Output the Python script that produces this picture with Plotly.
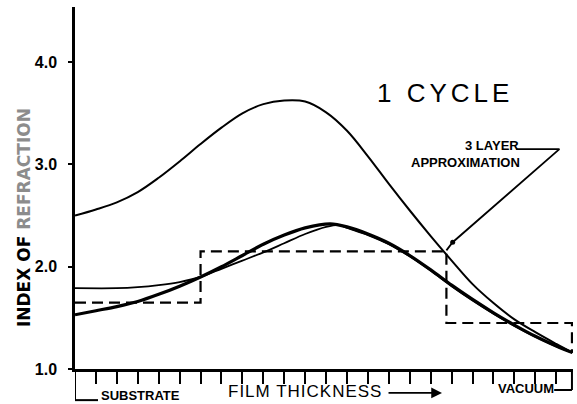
import plotly.graph_objects as go

# Film thickness in tick units (0 = substrate interface, ~23.8 = vacuum)
upper_t = [0, 1, 2, 3, 4, 5, 6, 7, 8, 9, 10, 11, 12, 13, 14, 15, 16, 17, 18, 19, 20, 21, 22, 23, 23.77]
upper_n = [2.50, 2.56, 2.63, 2.73, 2.87, 3.03, 3.20, 3.36, 3.50, 3.59, 3.625, 3.615, 3.51, 3.33, 3.08, 2.81, 2.55, 2.30, 2.06, 1.83, 1.645, 1.485, 1.36, 1.245, 1.16]

bold_t = [0, 1, 2, 3, 4, 5, 6, 7, 8, 9, 10, 11, 12.2, 13, 14, 15, 16, 17, 18, 19, 20, 21, 22, 23, 23.77]
bold_n = [1.53, 1.57, 1.61, 1.66, 1.73, 1.81, 1.90, 2.00, 2.11, 2.22, 2.31, 2.38, 2.42, 2.39, 2.32, 2.23, 2.11, 1.97, 1.82, 1.68, 1.55, 1.43, 1.32, 1.225, 1.16]

flat_t = [0, 2, 3, 4, 5, 6, 7, 8, 9, 10, 11, 12, 12.6, 13, 14, 15, 16, 17, 18, 19, 20, 21, 22, 23, 23.77]
flat_n = [1.79, 1.79, 1.80, 1.82, 1.85, 1.90, 1.98, 2.06, 2.14, 2.23, 2.32, 2.39, 2.41, 2.38, 2.31, 2.22, 2.10, 1.96, 1.81, 1.67, 1.54, 1.42, 1.315, 1.22, 1.16]

# Three-layer step approximation
layer_t = [0, 6.0, 6.0, 17.75, 17.75, 23.75, 23.75]
layer_n = [1.65, 1.65, 2.15, 2.15, 1.45, 1.45, 1.16]

y_ticks = [1, 2, 3, 4]
y_labels = ["1.0", "2.0", "3.0", "4.0"]
x_ticks = list(range(1, 24))

fig = go.Figure()
fig.add_trace(go.Scatter(x=layer_t, y=layer_n, mode="lines",
                         line=dict(color="black", width=2.2, dash="11px,6px")))
fig.add_trace(go.Scatter(x=upper_t, y=upper_n, mode="lines", line_shape="spline",
                         line=dict(color="black", width=2, smoothing=1)))
fig.add_trace(go.Scatter(x=flat_t, y=flat_n, mode="lines", line_shape="spline",
                         line=dict(color="black", width=1.8, smoothing=0.8)))
fig.add_trace(go.Scatter(x=bold_t, y=bold_n, mode="lines", line_shape="spline",
                         line=dict(color="black", width=3.2, smoothing=0.8)))

# leader from the "3 LAYER" label down to the step corner
lead_t = [21.1, 23.15, 18.05, 17.75]
lead_n = [3.15, 3.15, 2.24, 2.16]
fig.add_trace(go.Scatter(x=lead_t, y=lead_n, mode="lines",
                         line=dict(color="black", width=1.8)))
fig.add_trace(go.Scatter(x=[18.05], y=[2.24], mode="markers",
                         marker=dict(color="black", size=5)))

fig.update_layout(
    width=577, height=404,
    margin=dict(l=75, r=4, t=7, b=35),
    paper_bgcolor="white", plot_bgcolor="white",
    showlegend=False,
    xaxis=dict(range=[0, 23.8], tickvals=x_ticks, showticklabels=False,
               ticks="outside", ticklen=12, tickwidth=2.2, tickcolor="black",
               showline=True, linecolor="black", linewidth=2.5,
               showgrid=False, zeroline=False, fixedrange=True),
    yaxis=dict(range=[1.0, 4.54], tickvals=y_ticks, ticktext=y_labels,
               ticks="outside", ticklen=4, tickwidth=2, tickcolor="black",
               ticklabelstandoff=8,
               tickfont=dict(family="Liberation Sans", size=16, color="black", weight="bold"),
               showline=True, linecolor="black", linewidth=2.5,
               showgrid=False, zeroline=False, fixedrange=True),
)

bold = dict(family="Liberation Sans", color="black", weight="bold")
mid = dict(xanchor="center", yanchor="middle", showarrow=False,
           xref="paper", yref="paper")

fig.add_annotation(x=-0.1024, y=0.417,
                   text='INDEX OF <span style="color:#8c8c8c">REFRACTION</span>',
                   textangle=-90,
                   font=dict(family="DejaVu Sans", size=17, color="black", weight="bold"), **mid)

fig.add_annotation(x=0.743, y=0.762,
                   text='<span style="letter-spacing:4px">1 CYCLE</span>',
                   font=dict(family="Liberation Sans", size=26, color="black"), **mid)

fig.add_annotation(x=0.8956, y=0.618, text="3 LAYER", font=dict(size=13, **bold),
                   xanchor="right", yanchor="middle", showarrow=False,
                   xref="paper", yref="paper")
fig.add_annotation(x=0.8976, y=0.571, text="APPROXIMATION", font=dict(size=13, **bold),
                   xanchor="right", yanchor="middle", showarrow=False,
                   xref="paper", yref="paper")

# labels beneath the thickness axis
fig.add_annotation(x=0.1325, y=-0.072, text="SUBSTRATE", font=dict(size=13, **bold), **mid)
fig.add_annotation(x=0.462, y=-0.061,
                   text='<span style="letter-spacing:1px">FILM THICKNESS</span>',
                   font=dict(family="Liberation Sans", size=17, color="black"), **mid)
fig.add_annotation(x=0.906, y=-0.053, text="VACUUM", font=dict(size=13, **bold), **mid)
fig.add_annotation(xref="paper", yref="paper", x=0.737, y=-0.066,
                   ax=-55, ay=0, text="", showarrow=True,
                   arrowhead=2, arrowsize=1.2, arrowwidth=1.8, arrowcolor="black")

# brackets joining the end labels to the axis
fig.add_shape(type="line", xref="x", yref="paper", x0=0, x1=0, y0=0, y1=-0.086,
              line=dict(color="black", width=2))
fig.add_shape(type="line", xref="x", yref="paper", x0=0, x1=1.1, y0=-0.086, y1=-0.086,
              line=dict(color="black", width=2))
fig.add_shape(type="line", xref="x", yref="paper", x0=23.75, x1=23.75, y0=0, y1=-0.058,
              line=dict(color="black", width=2))
fig.add_shape(type="line", xref="x", yref="paper", x0=22.9, x1=23.75, y0=-0.058, y1=-0.058,
              line=dict(color="black", width=2))

fig.write_html("out.html")
